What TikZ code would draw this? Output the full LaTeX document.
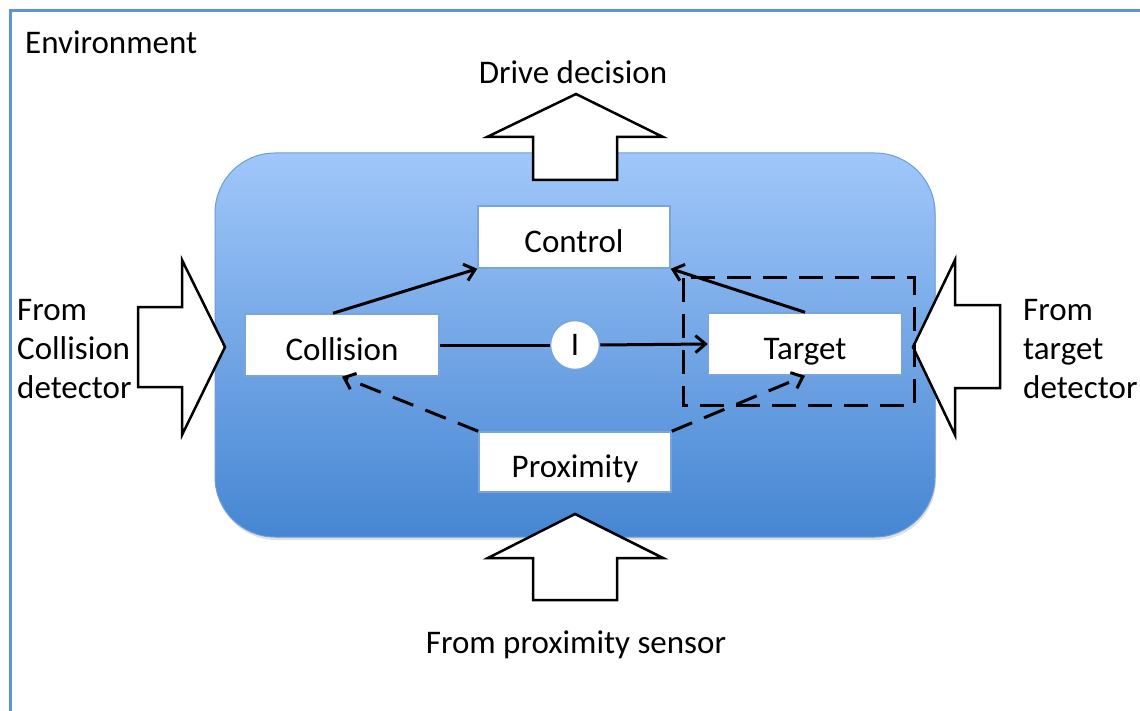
\documentclass[tikz,border=0pt]{standalone}
\usepackage{fontspec}
\setmainfont{Carlito}
\usetikzlibrary{arrows.meta}
\definecolor{envblue}{HTML}{5F93D6}
\definecolor{boxtop}{HTML}{A0C7FA}
\definecolor{boxbot}{HTML}{4686D2}
\definecolor{boxedge}{HTML}{6E9DD6}
\definecolor{nodeedge}{HTML}{7AA5DA}
\tikzset{
  blockarrow/.style={draw=black, fill=white, line width=2.5pt, line join=miter},
  procbox/.style={draw=nodeedge, fill=white, line width=1.5pt, minimum width=192pt, minimum height=62pt, inner sep=0pt, text height=31pt, text depth=0pt},
  label/.style={inner sep=0pt},
  conn/.style={line width=3pt, -{Straight Barb[length=10pt,width=17pt]}},
  dconn/.style={conn, dash pattern=on 22pt off 13pt},
  dbox/.style={line width=3pt, dash pattern=on 24pt off 12pt}
}
\begin{document}
\begin{tikzpicture}[x=1pt,y=-1pt,font=\fontsize{33}{39}\selectfont]
\useasboundingbox (0,0) rectangle (1140,711);
\fill[white] (0,0) rectangle (1140,711);
\draw[envblue, line width=3pt] (10,715) -- (10,11) -- (1145,11);
\node[label, anchor=west] (env) at (25,42) {Environment};
% system area
\fill[black, opacity=0.12, rounded corners=60pt] (216,156) rectangle (936,540);
\shade[top color=boxtop, bottom color=boxbot, draw=boxedge, line width=1pt, rounded corners=60pt] (215,153) rectangle (935,537);
% block arrows
\draw[blockarrow] (576,94) -- (663,137) -- (617,137) -- (617,180) -- (533,180) -- (533,137) -- (487,137) -- cycle;
\draw[blockarrow] (575,514) -- (663,558) -- (617,558) -- (617,600) -- (533,600) -- (533,558) -- (488,558) -- cycle;
\draw[blockarrow] (225,347) -- (182,435) -- (182,387) -- (138,387) -- (138,307) -- (182,307) -- (182,260) -- cycle;
\draw[blockarrow] (913,347) -- (955,260) -- (955,305) -- (1000,305) -- (1000,388) -- (955,388) -- (955,435) -- cycle;
% labels
\node[label] (drive) at (573,72) {Drive decision};
\node[label, anchor=west, align=left] (fromcol) at (17,349) {From\\Collision\\detector};
\node[label, anchor=west, align=left] (fromtgt) at (1023,349) {From\\target\\detector};
\node[label] (fromprox) at (576,645) {From proximity sensor};
% process boxes
\node[procbox] (control) at (574,237) {Control};
\node[procbox, minimum width=194pt] (collision) at (342,345) {Collision};
\node[procbox, minimum width=193pt] (target) at (805,344) {Target};
\node[procbox, minimum height=60pt] (proximity) at (575,462) {Proximity};
\node[circle, draw=nodeedge, fill=white, line width=1.5pt, minimum size=49pt, inner sep=0pt] (inh) at (575,345) {I};
% dashed frame around target
\draw[dbox] (683,278) rectangle (914,405);
% connectors
\draw[line width=3pt] (collision.east) -- (inh.west);
\draw[conn] (inh.east) -- (target.west);
\draw[conn] ([xshift=-9pt]collision.north) -- (control.south west);
\draw[conn] (target.north) -- (control.south east);
\draw[dconn] (proximity.north west) -- (collision.south);
\draw[dconn] (proximity.north east) -- (target.south);
\end{tikzpicture}
\end{document}
